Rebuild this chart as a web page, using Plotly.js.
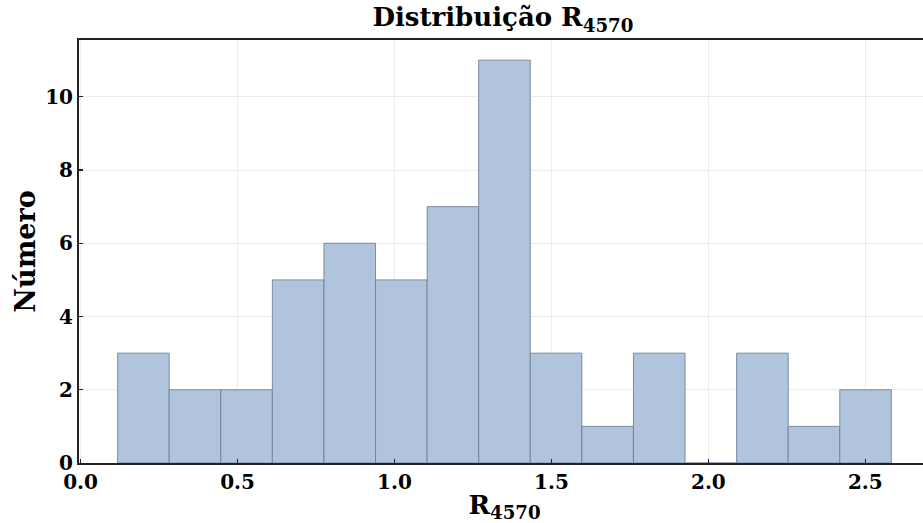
<!DOCTYPE html>
<html>
<head>
<meta charset="utf-8">
<script src="https://cdn.plot.ly/plotly-3.0.1.min.js"></script>
<style>
html,body{margin:0;padding:0;overflow:hidden;background:#fff;}
#chart{width:940px;height:523px;}
</style>
</head>
<body>
<div id="chart"></div>
<script>
// Histogram of R4570: bin start, bin width and counts per bin
const binStart = 0.118;
const binWidth = 0.16433;
const counts = [3, 2, 2, 5, 6, 5, 7, 11, 3, 1, 3, 0, 3, 1, 2];
const xTicks = [0.0, 0.5, 1.0, 1.5, 2.0, 2.5];
const xTickLabels = ['0.0', '0.5', '1.0', '1.5', '2.0', '2.5'];
const yTicks = [0, 2, 4, 6, 8, 10];
const yTickLabels = ['0', '2', '4', '6', '8', '10'];

const centers = counts.map((c, i) => binStart + binWidth * (i + 0.5));

const font = 'DejaVu Serif';
const trace = {
  type: 'bar',
  x: centers,
  y: counts,
  width: counts.map(() => binWidth),
  marker: {color: '#b0c4de', line: {color: 'rgba(110,125,145,0.85)', width: 1}},
  hoverinfo: 'x+y'
};

const layout = {
  width: 940, height: 523,
  margin: {l: 79, r: 10, t: 40, b: 60},
  paper_bgcolor: '#fff', plot_bgcolor: '#fff',
  showlegend: false,
  bargap: 0,
  title: {text: '<b>Distribuição R<sub>4570</sub></b>', font: {family: font, size: 26, color: '#000'}, x: 0.535, xanchor: 'center', y: 0.985, yanchor: 'top'},
  xaxis: {
    range: [-0.005, 2.706],
    tickvals: xTicks, ticktext: xTickLabels,
    ticks: 'inside', ticklen: 4, tickwidth: 1.2, tickcolor: '#222',
    showline: true, linecolor: '#222', linewidth: 2, mirror: true,
    showgrid: true, gridcolor: '#ebebeb', gridwidth: 1,
    zeroline: false,
    tickfont: {family: font, size: 20, color: '#000', weight: 'bold'},
    title: {text: '<b>R<sub>4570</sub></b>', font: {family: font, size: 26, color: '#000'}, standoff: 4}
  },
  yaxis: {
    range: [0, 11.55],
    tickvals: yTicks, ticktext: yTickLabels,
    ticks: 'inside', ticklen: 4, tickwidth: 1.2, tickcolor: '#222',
    showline: true, linecolor: '#222', linewidth: 2, mirror: true,
    showgrid: true, gridcolor: '#ebebeb', gridwidth: 1,
    zeroline: false,
    tickfont: {family: font, size: 20, color: '#000', weight: 'bold'},
    title: {text: '<b>Número</b>', font: {family: font, size: 27, color: '#000'}, standoff: 2}
  }
};

Plotly.newPlot('chart', [trace], layout, {displayModeBar: false, staticPlot: true});
</script>
</body>
</html>
